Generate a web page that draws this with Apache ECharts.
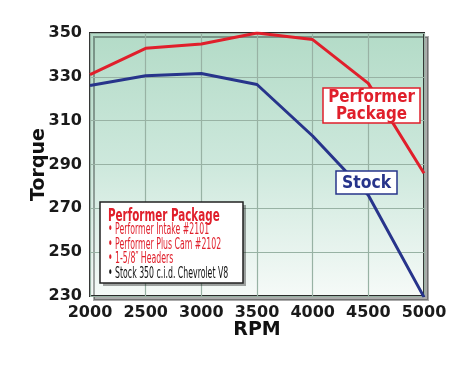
<!DOCTYPE html>
<html><head><meta charset="utf-8">
<script src="https://cdn.jsdelivr.net/npm/echarts@6/dist/echarts.min.js"></script>
<style>html,body{margin:0;padding:0;background:#fff}#c{width:474px;height:367px}</style>
</head><body><div id="c"></div>
<script>
const rpm = [2000, 2500, 3000, 3500, 4000, 4500, 5000];
const performer = [331, 343, 345, 350, 347, 327, 286];
const stock = [326, 330.5, 331.5, 326.5, 303, 276, 229.5];
const yTicks = [230, 250, 270, 290, 310, 330, 350];
const legendTitle = 'Performer Package';
const legendItems = ['Performer Intake #2101', 'Performer Plus Cam #2102', '1-5/8\u2033 Headers', 'Stock 350 c.i.d. Chevrolet V8'];

const FONT = '"Liberation Sans Narrow","DejaVu Sans",sans-serif';
const RED = '#e01f2b', BLUE = '#27348b';
const chart = echarts.init(document.getElementById('c'));
chart.setOption({
  animation: false,
  backgroundColor: '#fff',
  grid: {
    left: 90, right: 50, top: 33, bottom: 71, show: true,
    borderColor: '#2b2b2b', borderWidth: 2,
    backgroundColor: new echarts.graphic.LinearGradient(0, 0, 0, 1, [
      {offset: 0, color: '#b3dbc7'}, {offset: 0.5, color: '#cde8dc'}, {offset: 1, color: '#f6faf8'}
    ]),
    shadowColor: 'rgba(0,0,0,0.33)', shadowOffsetX: 4, shadowOffsetY: 4, shadowBlur: 0
  },
  xAxis: {
    type: 'value', min: 2000, max: 5000, interval: 500,
    name: 'RPM', nameLocation: 'middle', nameGap: 25, nameMoveOverlap: false,
    nameTextStyle: {fontFamily: FONT, fontWeight: 'bold', fontSize: 19, color: '#111'},
    axisLine: {show: false}, axisTick: {show: false},
    axisLabel: {fontFamily: FONT, fontWeight: 'bold', fontSize: 16, color: '#1a1a1a', margin: 9,
                formatter: v => String(v)},
    splitLine: {show: true, lineStyle: {color: '#98b2a4', width: 1.2}}
  },
  yAxis: {
    type: 'value', min: 230, max: 350, interval: 20,
    name: 'Torque', nameLocation: 'middle', nameGap: 41, nameRotate: 90, nameMoveOverlap: false,
    nameTextStyle: {fontFamily: FONT, fontWeight: 'bold', fontSize: 19, color: '#111'},
    axisLine: {show: false}, axisTick: {show: false},
    axisLabel: {fontFamily: FONT, fontWeight: 'bold', fontSize: 16, color: '#1a1a1a', margin: 8},
    splitLine: {show: true, lineStyle: {color: '#98b2a4', width: 1.2}}
  },
  series: [
    {type: 'line', data: rpm.map((r, i) => [r, performer[i]]), symbol: 'none',
     lineStyle: {color: RED, width: 3}, z: 3},
    {type: 'line', data: rpm.map((r, i) => [r, stock[i]]), symbol: 'none',
     lineStyle: {color: BLUE, width: 3}, z: 3}
  ],
  graphic: [
    {type: 'rect', shape: {x: 323, y: 88, width: 97, height: 35}, z: 10,
     style: {fill: '#fff', stroke: RED, lineWidth: 1.5}},
    {type: 'text', x: 371.5, y: 106, z: 11, scaleX: 0.84,
     style: {text: 'Performer\nPackage', fill: RED, font: 'bold 18px "DejaVu Sans",sans-serif',
             align: 'center', verticalAlign: 'middle', lineHeight: 17}},
    {type: 'rect', shape: {x: 336, y: 171, width: 61, height: 23}, z: 10,
     style: {fill: '#fff', stroke: BLUE, lineWidth: 1.5}},
    {type: 'text', x: 366.5, y: 183, z: 11, scaleX: 0.87,
     style: {text: 'Stock', fill: BLUE, font: 'bold 18px "DejaVu Sans",sans-serif',
             align: 'center', verticalAlign: 'middle'}},
    {type: 'rect', shape: {x: 103, y: 205, width: 143, height: 81}, z: 10,
     style: {fill: 'rgba(0,0,0,0.35)'}},
    {type: 'rect', shape: {x: 100, y: 202, width: 143, height: 81}, z: 11,
     style: {fill: '#fff', stroke: '#222', lineWidth: 1.5}},
    {type: 'text', x: 108, y: 216, z: 12, scaleX: 0.575,
     style: {text: legendTitle, fill: RED, font: 'bold 18px ' + FONT, verticalAlign: 'middle'}},
  ].concat(legendItems.map((t, i) => ({
    type: 'text', x: 108, y: 230.5 + i * 14.5, z: 12, scaleX: 0.52,
    style: {text: '\u2022 ' + t, fill: i < 3 ? RED : '#111', font: '15px ' + FONT, verticalAlign: 'middle'}
  })))
});
</script></body></html>
